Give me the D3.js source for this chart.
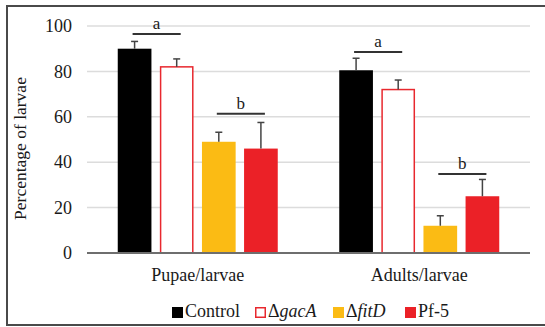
<!DOCTYPE html>
<html>
<head>
<meta charset="utf-8">
<script src="https://cdn.jsdelivr.net/npm/d3@7"></script>
<style>
  html, body { margin: 0; padding: 0; background: #fff; }
  svg text { font-family: "Liberation Serif", "Tinos", "Times New Roman", Times, "DejaVu Serif", serif; }
</style>
</head>
<body>
<svg id="chart" width="545" height="327"></svg>
<script>
// Categories, strains and measured percentages (mean and upper error)
const categories = ["Pupae/larvae", "Adults/larvae"];
const strains = ["Control", "gacA", "fitD", "Pf-5"];
const pupaeMeans = [90, 82, 49, 46];
const pupaeErrors = [3.2, 3.5, 4.2, 11.5];
const adultMeans = [80.5, 72, 12, 25];
const adultErrors = [5.3, 4.2, 4.4, 7.4];
const yTicks = [0, 20, 40, 60, 80, 100];
// Significance groups: which bars each bracket spans and its letter
const sigGroups = [
  { cat: 0, from: 0, to: 1, level: 96.5, letter: "a" },
  { cat: 0, from: 2, to: 3, level: 61.3, letter: "b" },
  { cat: 1, from: 0, to: 1, level: 88.5, letter: "a" },
  { cat: 1, from: 2, to: 3, level: 34.8, letter: "b" }
];

const SERIF = '"Liberation Serif", "Tinos", "Times New Roman", Times, "DejaVu Serif", serif';
const fills = { "Control": "#000000", "gacA": "#ffffff", "fitD": "#fbbb14", "Pf-5": "#eb2127" };
const strokes = { "Control": "#000000", "gacA": "#e8282e", "fitD": "#fbbb14", "Pf-5": "#eb2127" };

const rows = categories.map((c, i) => ({
  cat: c,
  values: strains.map((s, j) => ({
    strain: s,
    mean: (i === 0 ? pupaeMeans : adultMeans)[j],
    err: (i === 0 ? pupaeErrors : adultErrors)[j]
  }))
}));

const svg = d3.select("#chart").attr("font-family", SERIF);

// outer frame
svg.append("rect")
  .attr("x", 7).attr("y", 6).attr("width", 545).attr("height", 319)
  .attr("fill", "none").attr("stroke", "#4a4a4a").attr("stroke-width", 2);

const plot = { left: 87, right: 530, top: 26, bottom: 253 };

const x0 = d3.scaleBand().domain(categories).range([plot.left, plot.right]).padding(0);
const x1 = d3.scaleBand().domain(strains).range([0, 160]).paddingInner(0.2).paddingOuter(0);
const y = d3.scaleLinear().domain([0, 100]).range([plot.bottom, plot.top]);
const groupOffset = (x0.bandwidth() - 160) / 2;

// gridlines
svg.append("g").selectAll("line")
  .data(yTicks.filter(t => t > 0))
  .join("line")
  .attr("x1", plot.left).attr("x2", plot.right)
  .attr("y1", d => y(d)).attr("y2", d => y(d))
  .attr("stroke", "#dcdcdc").attr("stroke-width", 1.5);

// y axis tick labels
const yAxis = d3.axisLeft(y).tickValues(yTicks).tickSize(0).tickPadding(0);
const yg = svg.append("g").attr("transform", `translate(${plot.left - 15},0)`).call(yAxis);
yg.attr("font-family", SERIF);
yg.select(".domain").remove();
yg.selectAll("text")
  .attr("font-size", 18).attr("fill", "#1a1a1a");

// y axis title
svg.append("text")
  .attr("transform", `translate(26,148.5) rotate(-90)`)
  .attr("text-anchor", "middle")
  .attr("font-size", 17.5).attr("fill", "#1a1a1a")
  .text("Percentage of larvae");

// bars
const groups = svg.append("g").selectAll("g")
  .data(rows).join("g")
  .attr("transform", d => `translate(${x0(d.cat) + groupOffset},0)`);

groups.selectAll("rect")
  .data(d => d.values).join("rect")
  .attr("x", d => x1(d.strain) + (d.strain === "gacA" ? 0.75 : 0))
  .attr("width", d => x1.bandwidth() - (d.strain === "gacA" ? 1.5 : 0))
  .attr("y", d => y(d.mean))
  .attr("height", d => y(0) - y(d.mean))
  .attr("fill", d => fills[d.strain])
  .attr("stroke", d => d.strain === "gacA" ? strokes[d.strain] : "none")
  .attr("stroke-width", 1.5);

// error bars
const eb = groups.selectAll("g.err")
  .data(d => d.values).join("g").attr("class", "err");
eb.append("line")
  .attr("x1", d => x1(d.strain) + x1.bandwidth() / 2)
  .attr("x2", d => x1(d.strain) + x1.bandwidth() / 2)
  .attr("y1", d => y(d.mean))
  .attr("y2", d => y(d.mean + d.err))
  .attr("stroke", "#444").attr("stroke-width", 1.5);
eb.append("line")
  .attr("x1", d => x1(d.strain) + x1.bandwidth() / 2 - 3.5)
  .attr("x2", d => x1(d.strain) + x1.bandwidth() / 2 + 3.5)
  .attr("y1", d => y(d.mean + d.err))
  .attr("y2", d => y(d.mean + d.err))
  .attr("stroke", "#444").attr("stroke-width", 1.5);

// baseline
svg.append("line")
  .attr("x1", plot.left).attr("x2", plot.right)
  .attr("y1", y(0)).attr("y2", y(0))
  .attr("stroke", "#6e6e6e").attr("stroke-width", 2);

// significance brackets
sigGroups.forEach(g => {
  const base = x0(categories[g.cat]) + groupOffset;
  const xa = base + x1(strains[g.from]) + x1.bandwidth() / 2 - 2;
  const xb = base + x1(strains[g.to]) + x1.bandwidth() / 2 + 4;
  svg.append("line")
    .attr("x1", xa).attr("x2", xb)
    .attr("y1", y(g.level)).attr("y2", y(g.level))
    .attr("stroke", "#333").attr("stroke-width", 2);
  svg.append("text")
    .attr("x", (xa + xb) / 2).attr("y", y(g.level) - 5)
    .attr("text-anchor", "middle")
    .attr("font-size", 17).attr("fill", "#1a1a1a")
    .text(g.letter);
});

// category labels
svg.append("g").selectAll("text")
  .data(categories).join("text")
  .attr("x", d => x0(d) + x0.bandwidth() / 2)
  .attr("y", 281)
  .attr("text-anchor", "middle")
  .attr("font-size", 18).attr("fill", "#1a1a1a")
  .text(d => d);

// legend
const legendItems = [
  { strain: "Control", x: 172, italic: false },
  { strain: "gacA", x: 255, italic: true },
  { strain: "fitD", x: 333, italic: true },
  { strain: "Pf-5", x: 405, italic: false }
];
const lg = svg.append("g");
legendItems.forEach(it => {
  lg.append("rect")
    .attr("x", it.x + 0.75).attr("y", 307.75)
    .attr("width", 9.5).attr("height", 9.5)
    .attr("fill", fills[it.strain])
    .attr("stroke", strokes[it.strain]).attr("stroke-width", 1.5);
  const t = lg.append("text")
    .attr("x", it.x + 13).attr("y", 317)
    .attr("font-size", 18).attr("fill", "#1a1a1a");
  if (it.italic) {
    t.append("tspan").text("Δ");
    t.append("tspan").attr("font-style", "italic").text(it.strain);
  } else {
    t.text(it.strain);
  }
});
</script>
</body>
</html>
